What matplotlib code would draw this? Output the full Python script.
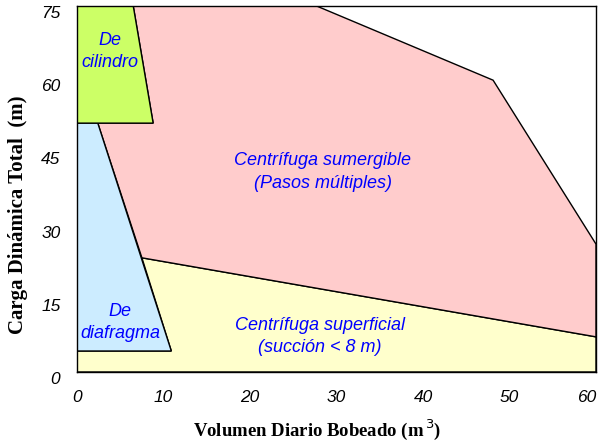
import matplotlib
matplotlib.use('Agg')
import matplotlib.pyplot as plt
from matplotlib.patches import Polygon

# region outlines (x = m3/day, y = head in m)
cilindro_x = [0, 6.5, 8.8, 0]
cilindro_y = [75, 75, 51, 51]

diafragma_x = [0, 2.4, 10.9, 0]
diafragma_y = [51, 51, 4.3, 4.3]

superficial_x = [0, 60, 60, 7.5, 10.9, 0]
superficial_y = [0, 0, 7.2, 23.4, 4.3, 4.3]

sumergible_x = [2.4, 8.8, 6.5, 27.7, 48.1, 60, 60, 7.5]
sumergible_y = [51, 51, 75, 75, 59.8, 26.2, 7.2, 23.4]

region_labels = ['De\ncilindro', 'De\ndiafragma',
                 'Centrífuga superficial\n(succión < 8 m)',
                 'Centrífuga sumergible\n(Pasos múltiples)']
label_x = [3.8, 5.0, 28.1, 28.4]
label_y = [65.6, 10.2, 7.2, 41.0]

x_ticks = [0, 10, 20, 30, 40, 50, 60]
y_ticks = [0, 15, 30, 45, 60, 75]

fig = plt.figure(figsize=(5.98, 4.42), dpi=100)
ax = fig.add_axes([0.1288, 0.1584, 0.8679, 0.828])

regions = [
    (superficial_x, superficial_y, '#FFFFCC'),
    (sumergible_x, sumergible_y, '#FFCCCC'),
    (diafragma_x, diafragma_y, '#CCECFF'),
    (cilindro_x, cilindro_y, '#CCFF66'),
]
for xs, ys, col in regions:
    ax.add_patch(Polygon(list(zip(xs, ys)), closed=True, facecolor=col,
                         edgecolor='black', linewidth=1.0))

for txt, tx, ty in zip(region_labels, label_x, label_y):
    ax.text(tx, ty, txt, color='#0000FF', fontstyle='italic',
            family='Liberation Sans', fontsize=13, ha='center', va='center',
            linespacing=1.4)

ax.set_xlim(0, 60)
ax.set_ylim(0, 75)
ax.set_xticks(x_ticks)
ax.set_yticks(y_ticks)
ax.tick_params(length=0, labelsize=12.5)
ax.tick_params(axis='x', pad=13)
ax.tick_params(axis='y', pad=12)
for t in ax.get_xticklabels() + ax.get_yticklabels():
    t.set_fontstyle('italic')
    t.set_family('Liberation Sans')
for t in ax.get_yticklabels():
    t.set_va('top')
ax.get_xticklabels()[-1].set_ha('right')

for s in ax.spines.values():
    s.set_linewidth(1.0)

ax.set_xlabel('Volumen Diario Bobeado (m$^{\\,3}$)', family='Liberation Serif',
              fontweight='bold', fontsize=13.5, va='center')
ax.set_ylabel('Carga Dinámica Total  (m)', family='Liberation Serif',
              fontweight='bold', fontsize=15)
ax.xaxis.set_label_coords(0.462, -0.158)
ax.yaxis.set_label_coords(-0.094, 0.429)

fig.savefig('out.png', dpi=100)
